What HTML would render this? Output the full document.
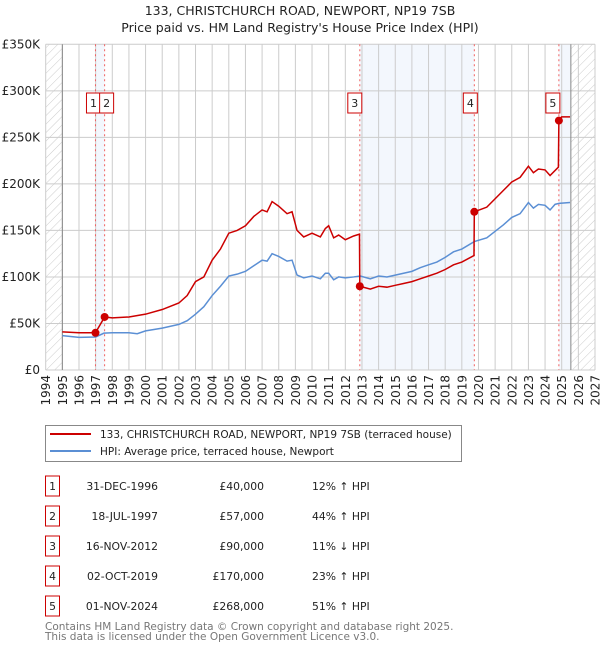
<!DOCTYPE html>
<html><head><meta charset="utf-8"><style>
body{margin:0;background:#fff;width:600px;height:650px;overflow:hidden;font-family:"DejaVu Sans","Liberation Sans",sans-serif;}
svg text{font-family:"DejaVu Sans","Liberation Sans",sans-serif;}
</style></head><body>
<svg id="chart" width="600" height="650" xmlns="http://www.w3.org/2000/svg">
<defs><pattern id="hatch" width="6" height="6" patternUnits="userSpaceOnUse" patternTransform="rotate(45)"><line x1="0" y1="0" x2="0" y2="6" stroke="#ccc" stroke-width="1"/></pattern></defs>
<text x="300" y="15" text-anchor="middle" font-size="12.5" fill="#222">133, CHRISTCHURCH ROAD, NEWPORT, NP19 7SB</text>
<text x="300" y="32" text-anchor="middle" font-size="12.5" fill="#222">Price paid vs. HM Land Registry's House Price Index (HPI)</text>
<g id="plot"></g>
<g>
<rect x="45.5" y="425.5" width="416" height="36" fill="#fff" stroke="#888"/>
<line x1="50" y1="434" x2="91" y2="434" stroke="#cc0000" stroke-width="2"/>
<text x="100" y="438" font-size="10.5" fill="#222">133, CHRISTCHURCH ROAD, NEWPORT, NP19 7SB (terraced house)</text>
<line x1="50" y1="451" x2="91" y2="451" stroke="#5b8fd4" stroke-width="2"/>
<text x="100" y="455" font-size="10.5" fill="#222">HPI: Average price, terraced house, Newport</text>
</g>
<g id="table"></g>
<text x="45" y="630" font-size="10.5" fill="#777">Contains HM Land Registry data © Crown copyright and database right 2025.</text>
<text x="45" y="640" font-size="10.5" fill="#777">This data is licensed under the Open Government Licence v3.0.</text>
</svg>
<script>
const yTicks=[0,50,100,150,200,250,300,350];
const yTickLabels=["£0","£50K","£100K","£150K","£200K","£250K","£300K","£350K"];
const xYears=[1994,1995,1996,1997,1998,1999,2000,2001,2002,2003,2004,2005,2006,2007,2008,2009,2010,2011,2012,2013,2014,2015,2016,2017,2018,2019,2020,2021,2022,2023,2024,2025,2026,2027];
const hpiT=[1995,1996,1997,1997.5,1998,1999,1999.5,2000,2001,2001.5,2002,2002.5,2003,2003.5,2004,2004.5,2005,2005.5,2006,2006.5,2007,2007.3,2007.6,2008,2008.5,2008.8,2009.1,2009.5,2010,2010.5,2010.8,2011,2011.3,2011.6,2012,2012.5,2012.9,2013.5,2014,2014.5,2015,2015.5,2016,2016.5,2017,2017.5,2018,2018.5,2019,2019.75,2020.5,2021,2021.5,2022,2022.5,2023,2023.3,2023.6,2024,2024.3,2024.6,2024.83,2025.5];
const hpiV=[37,35,35.5,39.6,40,40,39,42,45,47,49,53,60,68,80,90,101,103,106,112,118,117,125,122,117,118,102,99,101,98,104,104,97,100,99,100,101,98,101,100,102,104,106,110,113,116,121,127,130,138,142,149,156,164,168,180,174,178,177,172,178,179,180];
const priceT=[1995,1996,1996.99,1997.54,1998,1999,2000,2001,2002,2002.5,2003,2003.5,2004,2004.5,2005,2005.5,2006,2006.5,2007,2007.3,2007.6,2008,2008.5,2008.8,2009.1,2009.5,2010,2010.5,2010.8,2011,2011.3,2011.6,2012,2012.5,2012.85,2012.87,2013.5,2014,2014.5,2015,2015.5,2016,2016.5,2017,2017.5,2018,2018.5,2019,2019.73,2019.75,2020.5,2021,2021.5,2022,2022.5,2023,2023.3,2023.6,2024,2024.3,2024.8,2024.83,2025,2025.5];
const priceV=[41,40,40,57,56,57,60,65,72,80,95,100,118,130,147,150,155,165,172,170,181,176,168,170,150,143,147,143,152,155,142,145,140,144,146,90,87,90,89,91,93,95,98,101,104,108,113,116,123,170,175,184,193,202,207,219,212,216,215,209,218,268,272,272];
const saleIds=["1","2","3","4","5"];
const saleT=[1996.99,1997.54,2012.87,2019.75,2024.83];
const saleV=[40,57,90,170,268];
const saleDates=["31-DEC-1996","18-JUL-1997","16-NOV-2012","02-OCT-2019","01-NOV-2024"];
const salePrices=["£40,000","£57,000","£90,000","£170,000","£268,000"];
const saleHpi=["12% \u2191 HPI","44% \u2191 HPI","11% \u2193 HPI","23% \u2191 HPI","51% \u2191 HPI"];

const NS="http://www.w3.org/2000/svg";
const X0=45.7,X1=595,Y0=370,Y1=44.3;
const x=t=>X0+(t-1994)*(X1-X0)/33;
const y=v=>Y0-v*(Y0-Y1)/350;
const plot=document.getElementById('plot');
function mk(tag,attrs,parent){const e=document.createElementNS(NS,tag);for(const k in attrs)e.setAttribute(k,attrs[k]);(parent||plot).appendChild(e);return e;}
const dataEnd=2025.55;
let r;
r=mk('rect',{x:x(saleT[0]),y:Y1,width:x(saleT[1])-x(saleT[0]),height:Y0-Y1,fill:'#eef3fc',opacity:0.7});

r=mk('rect',{x:x(saleT[2]),y:Y1,width:x(saleT[3])-x(saleT[2]),height:Y0-Y1,fill:'#eef3fc',opacity:0.7});

r=mk('rect',{x:x(saleT[4]),y:Y1,width:x(dataEnd)-x(saleT[4]),height:Y0-Y1,fill:'#eef3fc',opacity:0.7});

r=mk('rect',{x:X0,y:Y1,width:x(1995)-X0,height:Y0-Y1,fill:'url(#hatch)'});

r=mk('rect',{x:x(dataEnd),y:Y1,width:X1-x(dataEnd),height:Y0-Y1,fill:'url(#hatch)'});

yTicks.forEach((v,i)=>{
 const l=mk('line',{x1:X0,x2:X1,y1:y(v),y2:y(v),stroke:'#ccc','stroke-width':1});
 
 const t=mk('text',{x:40,y:y(v)+4,'text-anchor':'end','font-size':12,fill:'#222'});t.textContent=yTickLabels[i];
 
});
xYears.forEach(yr=>{
 const l=mk('line',{x1:x(yr),x2:x(yr),y1:Y1,y2:Y0,stroke:'#ccc','stroke-width':1});
 
 const t=mk('text',{x:0,y:0,'text-anchor':'end','font-size':12,fill:'#222',transform:`translate(${x(yr)+4.5},375) rotate(-90)`});t.textContent=yr;
 
});
const ax=mk('line',{x1:x(1995),x2:x(1995),y1:Y1,y2:Y0,stroke:'#888'});

const ax2=mk('line',{x1:x(dataEnd),x2:x(dataEnd),y1:Y1,y2:Y0,stroke:'#888'});

saleT.forEach((t,i)=>{
 const l=mk('line',{x1:x(t),x2:x(t),y1:Y1,y2:Y0,stroke:'#f06060','stroke-width':1,'stroke-dasharray':'2,3'});
 
});
const hp=mk('polyline',{points:hpiT.map((t,i)=>x(t)+','+y(hpiV[i])).join(' '),fill:'none',stroke:'#5b8fd4','stroke-width':1.5});

const pp=mk('polyline',{points:priceT.map((t,i)=>x(t)+','+y(priceV[i])).join(' '),fill:'none',stroke:'#cc0000','stroke-width':1.5});

const boxOff=[-9,-5,-12,-11,-13];
saleT.forEach((t,i)=>{
 const c=mk('circle',{cx:x(t),cy:y(saleV[i]),r:4,fill:'#cc0000'});
 
 const bx=x(t)+boxOff[i];
 const b=mk('rect',{x:bx,y:93,width:14,height:20,fill:'#fff',stroke:'#cc0000'});
 
 const tt=mk('text',{x:bx+7,y:107,'text-anchor':'middle','font-size':11,fill:'#222'});tt.textContent=saleIds[i];
 
});
const tb=document.getElementById('table');
saleIds.forEach((id,i)=>{
 const cy=486+i*30;
 const b=mk('rect',{x:45.5,y:cy-10,width:14,height:20,fill:'#fff',stroke:'#cc0000'},tb);
 
 const n=mk('text',{x:52.5,y:cy+4,'text-anchor':'middle','font-size':10.8,fill:'#222'},tb);n.textContent=id;
 
 const d=mk('text',{x:158,y:cy+4,'text-anchor':'end','font-size':10.8,fill:'#222'},tb);d.textContent=saleDates[i];
 
 const p=mk('text',{x:264,y:cy+4,'text-anchor':'end','font-size':10.8,fill:'#222'},tb);p.textContent=salePrices[i];
 
 const h=mk('text',{x:312,y:cy+4,'font-size':10.8,fill:'#222'},tb);h.textContent=saleHpi[i];
 
});
</script>
</body></html>
